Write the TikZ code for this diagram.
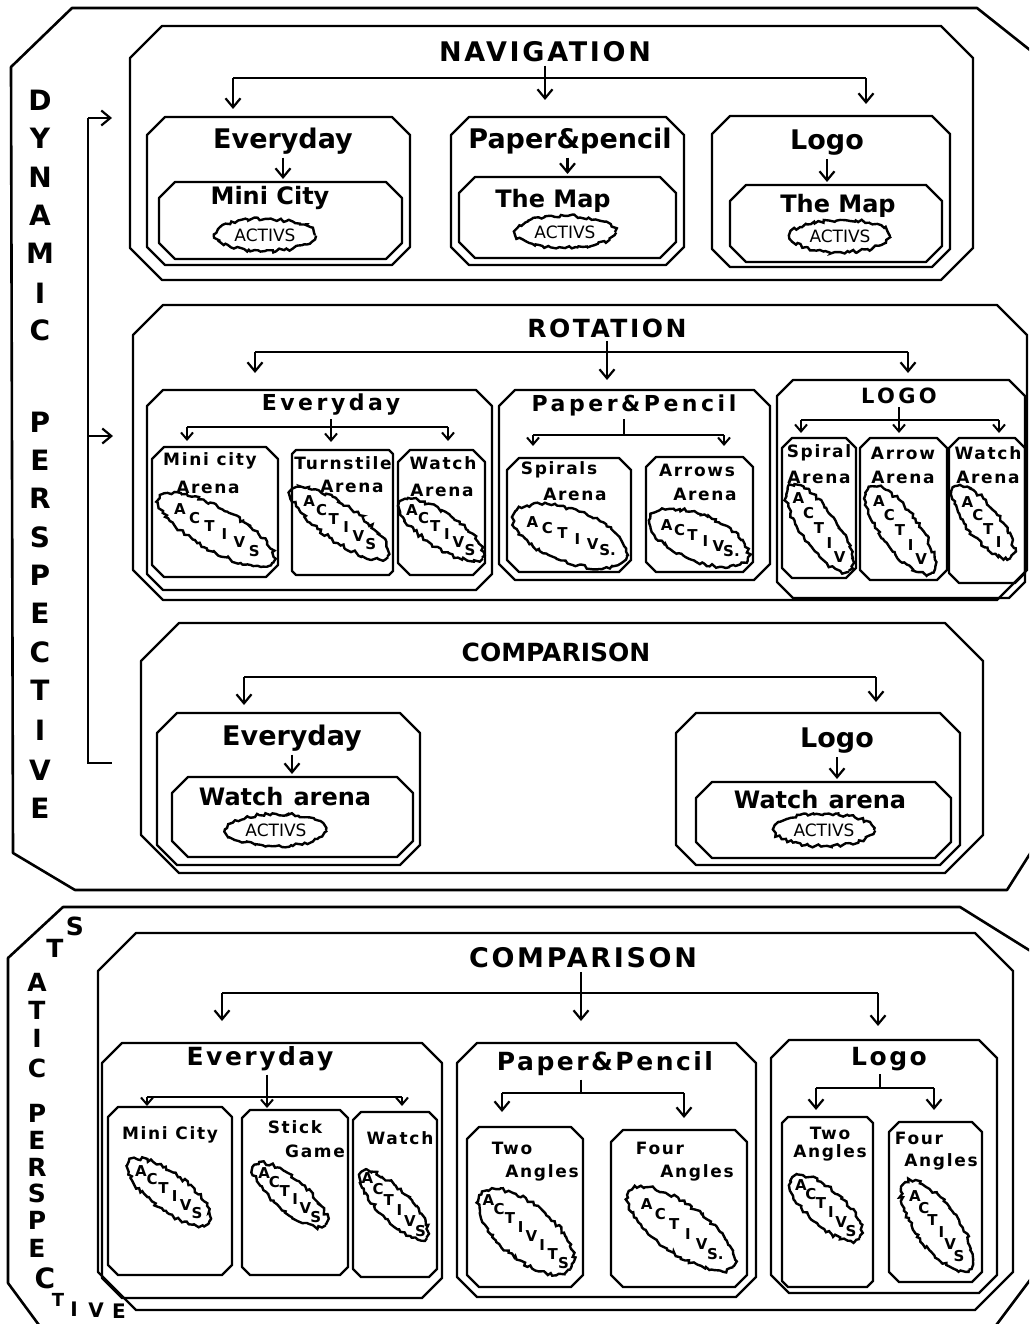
\documentclass[tikz,border=0pt]{standalone}
\usepackage{fontspec}
\setmainfont{DejaVu Sans}
\newfontfamily\wide{DejaVu Sans}[LetterSpace=10]
\newfontfamily\wider{DejaVu Sans}[LetterSpace=16]
\usetikzlibrary{arrows.meta,decorations.pathmorphing,shapes.geometric,fit,calc}
\newcommand\fsz[1]{\fontsize{#1}{#1}\selectfont}
\tikzset{
  frame/.style={line width=2.6pt, line join=round},
  boxline/.style={line width=2.4pt, line join=round},
  conn/.style={line width=2.2pt},
  arr/.style={line width=2.2pt, -{Straight Barb[length=9pt,width=15pt]}},
  arrs/.style={line width=2pt, -{Straight Barb[length=7pt,width=12pt]}},
  blob/.style={draw, ellipse, line width=2.4pt, inner sep=0pt,
     decorate, decoration={random steps, segment length=3pt, amplitude=1.8pt}},
  bltxt/.style={font=\fsz{17}, inner sep=0pt},
  bllet/.style={font=\bfseries\fsz{15}, inner sep=0pt},
  ttl/.style={font=\wide\bfseries\fsz{27}},
  ttlb/.style={font=\bfseries\fsz{25}},
  sub/.style={font=\bfseries\fsz{27}},
  subw/.style={font=\wider\bfseries\fsz{22}},
  lab/.style={font=\bfseries\fsz{24}},
  small/.style={font=\wide\bfseries\fsz{17}, inner sep=1pt},
  smallr/.style={font=\wide\bfseries\fsz{17}, inner sep=1pt},
  vlet/.style={font=\bfseries\fsz{28}, inner sep=0pt},
  vlets/.style={font=\bfseries\fsz{25}, inner sep=0pt},
}
% chamfered box: [chamfer]{name}{x1}{y1}{x2}{y2}
\newcommand\cbox[6][12]{%
  \node[inner sep=0pt, outer sep=0pt, fit={(#3,#4) (#5,#6)}] (#2) {};
  \draw[boxline] ({#3+#1},#4) -- ({#5-#1},#4) -- (#5,{#4+#1}) -- (#5,{#6-#1})
     -- ({#5-#1},#6) -- ({#3+#1},#6) -- (#3,{#6-#1}) -- (#3,{#4+#1}) -- cycle;}
% rotated blob: {name}{x}{y}{angle}{length}{width}{step}{n}{letters}
\newcommand\blobr[9]{%
  \node[blob, rotate=-#4, minimum width=#5pt, minimum height=#6pt] (#1) at (#2,#3) {};
  \foreach \ch [count=\i] in {#9}
    \node[bllet] (#1-\i) at ($(#1.center)+(#4:{(\i-(#8+1)/2)*#7})$) {\ch};}
% flat blob: {name}{x}{y}
\newcommand\blobf[3]{%
  \node[blob, minimum width=100pt, minimum height=32pt, bltxt] (#1) at (#2,#3) {ACTIVS};}

\begin{document}
\begin{tikzpicture}[x=1pt,y=-1pt]
\useasboundingbox (0,0) rectangle (1029,1324);
\clip (0,0) rectangle (1029,1324);

% ================= DYNAMIC PERSPECTIVE =================
\draw[frame] (72,8) -- (977,8) -- (1045,62) -- (1045,830) -- (1007,890)
   -- (75,890) -- (13,853) -- (11,67) -- cycle;
\foreach \l/\y [count=\k] in {D/100,Y/138,N/177,A/215,M/253,I/293,C/330,
   P/422,E/460,R/498,S/537,P/575,E/613,C/652,T/690,I/730,V/770,E/808}
  \node[vlet] (dv\k) at (40,\y) {\l};
\coordinate (brT) at (88,118);
\coordinate (brM) at (88,436);
\coordinate (brB) at (88,763);
\draw[conn] (brT) -- (brB) -- ++(24,0);

% ---------- NAVIGATION ----------
\cbox[32]{nav}{130}{26}{973}{280}
\draw[arr, shorten >=18pt] (brT) -- (brT -| nav.west);
\node[ttl] (navt) at (545,52) {NAVIGATION};
\coordinate (navA) at (233,78);
\coordinate (navB) at (866,78);
\draw[conn] (navA) -- (navB);
\cbox[18]{navE}{147}{117}{410}{265}
\cbox[18]{navP}{451}{117}{684}{265}
\cbox[18]{navG}{712}{116}{950}{267}
\draw[arr, shorten >=8pt] (navA) -- (navA |- navE.north);
\draw[arr, shorten >=12pt] (navB) -- (navB |- navG.north);
\draw[arr, shorten >=17pt] (navt.south) -- (navt.south |- navP.north);

\node[sub] (navEt) at (283,141) {Everyday};
\cbox[16]{navEi}{159}{182}{402}{259}
\draw[arr, shorten >=3pt] (navEt.south) -- (navEt.south |- navEi.north);
\node[lab] (navEl) at (270,198) {Mini City};
\blobf{navEb}{265}{235}

\node[sub] (navPt) at (570,141) {Paper\&pencil};
\cbox[16]{navPi}{459}{177}{676}{258}
\draw[arr, shorten >=3pt] (navPt.south -| navPi.north) -- (navPi.north);
\node[lab] (navPl) at (553,201) {The Map};
\blobf{navPb}{565}{232}

\node[sub] (navGt) at (827,143) {Logo};
\cbox[16]{navGi}{730}{185}{942}{262}
\draw[arr, shorten >=3pt] (navGt.south) -- (navGt.south |- navGi.north);
\node[lab] (navGl) at (838,206) {The Map};
\blobf{navGb}{840}{236}

% ---------- ROTATION ----------
\cbox[30]{rot}{133}{305}{1027}{600}
\draw[arr, shorten >=20pt] (brM) -- (brM -| rot.west);
\node[ttl, font=\wide\bfseries\fsz{25}] (rott) at (607,328) {ROTATION};
\coordinate (rotA) at (255,352);
\coordinate (rotB) at (908,352);
\draw[conn] (rotA) -- (rotB);
\cbox[16]{rotE}{147}{390}{492}{590}
\cbox[16]{rotP}{499}{390}{770}{580}
\cbox[16]{rotG}{777}{380}{1025}{598}
\draw[arr, shorten >=17pt] (rotA) -- (rotA |- rotE.north);
\draw[arr, shorten >=7pt] (rotB) -- (rotB |- rotG.north);
\draw[arr, shorten >=10pt] (rott.south) -- (rott.south |- rotP.north);

% rotation / everyday
\node[subw] (rotEt) at (331,405) {Everyday};
\coordinate (rotEA) at (187,427);
\coordinate (rotEB) at (448,427);
\draw[conn] (rotEA) -- (rotEB);
\cbox[12]{rotE1}{152}{447}{278}{577}
\cbox[4]{rotE2}{292}{450}{393}{575}
\cbox[12]{rotE3}{398}{450}{485}{575}
\draw[arrs, shorten >=6pt] (rotEA) -- (rotEA |- rotE1.north);
\draw[arrs, shorten >=9pt] (rotEB) -- (rotEB |- rotE3.north);
\draw[arrs, shorten >=8pt] (rotEt.south) -- (rotEt.south |- rotE2.north);
\node[small] (rotE1a) at (210,461) {Mini city};
\node[small] (rotE1b) at (208,487) {Arena};
\node[small] (rotE2a) at (343,463) {Turnstile};
\node[small] (rotE2b) at (352,486) {Arena};
\node[small] (rotE3a) at (443,463) {Watch};
\node[small] (rotE3b) at (442,490) {Arena};
\blobr{rb1}{217}{530}{29}{130}{42}{17}{6}{A,C,T,I,V,S}
\blobr{rb2}{340}{523}{35}{116}{36}{15}{6}{A,C,T,I,V,S}
\blobr{rb3}{441}{530}{34}{99}{34}{14}{6}{A,C,T,I,V,S}

% rotation / paper & pencil
\node[subw] (rotPt) at (634,405) {Paper\&Pencil};
\coordinate (rotPJ) at (624,435);
\coordinate (rotPA) at (533,435);
\coordinate (rotPB) at (724,435);
\draw[conn] (rotPJ |- rotPt.south) -- (rotPJ);
\draw[conn] (rotPA) -- (rotPB);
\cbox[12]{rotP1}{507}{458}{631}{572}
\cbox[10]{rotP2}{646}{457}{753}{572}
\draw[arrs, shorten >=12pt] (rotPA) -- (rotPA |- rotP1.north);
\draw[arrs, shorten >=11pt] (rotPB) -- (rotPB |- rotP2.north);
\node[small] (rotP1a) at (559,470) {Spirals};
\node[small] (rotP1b) at (575,494) {Arena};
\node[small] (rotP2a) at (697,470) {Arrows};
\node[small] (rotP2b) at (705,494) {Arena};
\blobr{rb4}{570}{536}{20}{120}{52}{16}{6}{A,C,T,I,V,S.}
\blobr{rb5}{699}{538}{22}{105}{46}{14}{6}{A,C,T,I,V,S.}

% rotation / logo
\node[subw, font=\wider\bfseries\fsz{21}] (rotGt) at (899,396) {LOGO};
\coordinate (rotGA) at (801,420);
\coordinate (rotGB) at (999,420);
\draw[conn] (rotGA) -- (rotGB);
\cbox[10]{rotG1}{782}{438}{856}{578}
\cbox[10]{rotG2}{860}{438}{947}{580}
\cbox[10]{rotG3}{949}{438}{1025}{583}
\draw[arrs, shorten >=5pt] (rotGA) -- (rotGA |- rotG1.north);
\draw[arrs, shorten >=5pt] (rotGB) -- (rotGB |- rotG3.north);
\draw[arrs, shorten >=5pt] (rotGt.south) -- (rotGt.south |- rotG2.north);
\node[small] (rotG1a) at (819,453) {Spiral};
\node[small] (rotG1b) at (819,477) {Arena};
\node[small] (rotG2a) at (903,453) {Arrow};
\node[small] (rotG2b) at (903,477) {Arena};
\node[small] (rotG3a) at (988,453) {Watch};
\node[small] (rotG3b) at (988,477) {Arena};
\blobr{rb6}{819}{528}{55}{104}{36}{18}{5}{A,C,T,I,V}
\blobr{rb7}{900}{530}{54}{106}{38}{18}{5}{A,C,T,I,V}
\blobr{rb8}{983}{522}{52}{90}{32}{17}{4}{A,C,T,I}

% ---------- COMPARISON (dynamic) ----------
\cbox[38]{cmp}{141}{623}{983}{873}
\node[ttlb] (cmpt) at (556,652) {COMPARISON};
\coordinate (cmpA) at (244,677);
\coordinate (cmpB) at (876,677);
\draw[conn] (cmpA) -- (cmpB);
\cbox[20]{cmpE}{157}{713}{420}{865}
\cbox[20]{cmpG}{676}{713}{960}{865}
\draw[arr, shorten >=8pt] (cmpA) -- (cmpA |- cmpE.north);
\draw[arr, shorten >=11pt] (cmpB) -- (cmpB |- cmpG.north);
\node[sub] (cmpEt) at (292,738) {Everyday};
\cbox[16]{cmpEi}{172}{777}{413}{857}
\draw[arr, shorten >=3pt] (cmpEt.south) -- (cmpEt.south |- cmpEi.north);
\node[lab] (cmpEl) at (285,797) {Watch\hspace{10pt}arena};
\blobf{cmpEb}{276}{830}
\node[sub] (cmpGt) at (837,741) {Logo};
\cbox[16]{cmpGi}{696}{782}{951}{858}
\draw[arr, shorten >=3pt] (cmpGt.south) -- (cmpGt.south |- cmpGi.north);
\node[lab] (cmpGl) at (820,800) {Watch\hspace{10pt}arena};
\blobf{cmpGb}{824}{830}

% ================= STATIC PERSPECTIVE =================
\draw[frame] (50,1340) -- (8,1283) -- (8,958) -- (63,907) -- (960,907)
   -- (1045,960) -- (1045,1260) -- (985,1340);
\node[vlets] (st1) at (75,926) {S};
\node[vlets] (st2) at (55,948) {T};
\foreach \l/\y [count=\k] in {A/982,T/1010,I/1038,C/1068,P/1113,E/1140,R/1167,
   S/1193,P/1220,E/1248}
  \node[vlets] (sv\k) at (37,\y) {\l};
\node[vlet] (sv11) at (45,1278) {C};
\node[font=\bfseries\fsz{18}, inner sep=0pt] (sv12) at (58,1300) {T};
\node[font=\bfseries\fsz{20}, inner sep=0pt] (sv13) at (74,1309) {I};
\node[font=\bfseries\fsz{20}, inner sep=0pt] (sv14) at (96,1310) {V};
\node[font=\bfseries\fsz{20}, inner sep=0pt] (sv15) at (119,1311) {E};

\cbox[38]{sc}{98}{933}{1013}{1310}
\node[ttl] (sct) at (583,958) {COMPARISON};
\coordinate (scA) at (222,993);
\coordinate (scB) at (878,993);
\draw[conn] (scA) -- (scB);
\cbox[20]{scE}{102}{1043}{442}{1298}
\cbox[20]{scP}{457}{1043}{756}{1297}
\cbox[18]{scG}{771}{1040}{997}{1293}
\draw[arr, shorten >=22pt] (scA) -- (scA |- scE.north);
\draw[arr, shorten >=14pt] (scB) -- (scB |- scG.north);
\draw[arr, shorten >=22pt] (sct.south -| 581,0) -- (581,0 |- scP.north);

% static / everyday
\node[subw, font=\wide\bfseries\fsz{25}] (scEt) at (260,1059) {Everyday};
\coordinate (scEA) at (147,1097);
\coordinate (scEB) at (402,1097);
\draw[conn] (scEA) -- (scEB);
\cbox[10]{scE1}{108}{1107}{232}{1275}
\cbox[8]{scE2}{242}{1110}{348}{1275}
\cbox[8]{scE3}{353}{1112}{437}{1277}
\draw[arrs, shorten >=1pt] (scEA) -- (scEA |- scE1.north);
\draw[arrs, shorten >=6pt] (scEB) -- (scEB |- scE3.north);
\draw[arrs, shorten >=2pt] (scEt.south -| 267,0) -- (267,0 |- scE2.north);
\node[smallr] (scE1a) at (170,1135) {Mini City};
\node[smallr] (scE2a) at (295,1127) {Stick};
\node[smallr] (scE2b) at (315,1151) {Game};
\node[smallr] (scE3a) at (400,1138) {Watch};
\blobr{sb1}{169}{1192}{37}{100}{37}{14}{6}{A,C,T,I,V,S}
\blobr{sb2}{290}{1195}{40}{92}{32}{13.5}{6}{A,C,T,I,V,S}
\blobr{sb3}{394}{1205}{45}{92}{30}{15}{6}{A,C,T,I,V,S}

% static / paper & pencil
\node[subw, font=\wide\bfseries\fsz{25}] (scPt) at (605,1064) {Paper\&Pencil};
\coordinate (scPJ) at (581,1093);
\coordinate (scPA) at (502,1093);
\coordinate (scPB) at (684,1093);
\draw[conn] (scPJ |- scPt.south) -- (scPJ);
\draw[conn] (scPA) -- (scPB);
\cbox[12]{scP1}{467}{1127}{583}{1287}
\cbox[12]{scP2}{611}{1130}{747}{1287}
\draw[arr, shorten >=15pt] (scPA) -- (scPA |- scP1.north);
\draw[arr, shorten >=12pt] (scPB) -- (scPB |- scP2.north);
\node[smallr] (scP1a) at (512,1148) {Two};
\node[smallr] (scP1b) at (542,1173) {Angles};
\node[smallr] (scP2a) at (660,1148) {Four};
\node[smallr] (scP2b) at (697,1173) {Angles};
\blobr{sb4}{526}{1232}{40}{116}{54}{14}{8}{A,C,T,I,V,I,T,S}
\blobr{sb5}{681}{1229}{36}{128}{48}{17}{6}{A,C,T,I,V,S.}

% static / logo
\node[subw, font=\wide\bfseries\fsz{25}] (scGt) at (889,1059) {Logo};
\coordinate (scGJ) at (880,1088);
\coordinate (scGA) at (816,1088);
\coordinate (scGB) at (934,1088);
\draw[conn] (scGJ |- scGt.south) -- (scGJ);
\draw[conn] (scGA) -- (scGB);
\cbox[6]{scG1}{782}{1117}{873}{1287}
\cbox[10]{scG2}{889}{1122}{982}{1282}
\draw[arr, shorten >=7pt] (scGA) -- (scGA |- scG1.north);
\draw[arr, shorten >=12pt] (scGB) -- (scGB |- scG2.north);
\node[smallr] (scG1a) at (830,1133) {Two};
\node[smallr] (scG1b) at (830,1153) {Angles};
\node[smallr] (scG2a) at (919,1138) {Four};
\node[smallr] (scG2b) at (941,1162) {Angles};
\blobr{sb6}{826}{1208}{42}{90}{36}{13.5}{6}{A,C,T,I,V,S}
\blobr{sb7}{937}{1226}{54}{108}{42}{15}{6}{A,C,T,I,V,S}
\end{tikzpicture}
\end{document}
